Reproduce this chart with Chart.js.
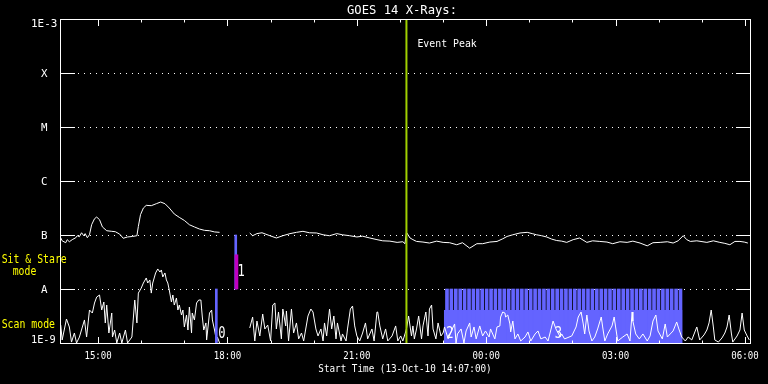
<!DOCTYPE html>
<html>
<head>
<meta charset="utf-8">
<script src="https://cdn.jsdelivr.net/npm/chart.js@4/dist/chart.umd.min.js"></script>
<style>
html,body{margin:0;padding:0;background:#000;}
#c{display:block;background:#000;}
</style>
</head>
<body>
<canvas id="c" width="768" height="384"></canvas>
<script>
// ---- data (time unit: minutes after start time 13-Oct-10 14:07:00) ----
const chartTitle = 'GOES 14 X-Rays:';
const xAxisTitle = 'Start Time (13-Oct-10 14:07:00)';
const timeMin = 0, timeMax = 960;
const hourTicks = [53,113,173,233,293,353,413,473,533,593,653,713,773,833,893,953];
const labelTicks = [53,233,413,593,773,953];
const labelTickText = ['15:00','18:00','21:00','00:00','03:00','06:00'];
const fluxTicks = [1e-3,1e-4,1e-5,1e-6,1e-7,1e-8,1e-9];
const fluxTickText = ['1E-3','X','M','C','B','A','1E-9'];

// GOES long channel (1-8 A), W/m^2
const longTimes = [1,3,8,10,13,17,22,24,27,30,33,35,38,41,44,48,51,55,59,65,72,77,83,88,94,101,107,109,112,116,120,127,134,140,146,152,159,166,173,180,187,194,201,208,215,222,240,264,268,274,281,292,301,310,320,329,338,347,357,366,375,385,393,403,413,421,431,441,449,459,469,477,480,482,487,491,496,505,514,524,533,542,552,560,570,580,588,598,608,616,622,630,640,650,657,663,670,677,684,691,698,705,714,723,733,741,751,761,769,779,789,797,807,817,825,835,845,853,860,867,872,877,886,900,909,918,925,932,939,946,952,957];
const longFlux = [8.9e-8,7.8e-8,7.2e-8,8.2e-8,7.5e-8,8.2e-8,8.9e-8,9.7e-8,9.3e-8,1.10e-7,9.7e-8,1.06e-7,8.9e-8,1.01e-7,1.55e-7,2.0e-7,2.15e-7,1.92e-7,1.41e-7,1.2e-7,1.17e-7,1.15e-7,1.04e-7,8.7e-8,9.2e-8,9.4e-8,9.7e-8,1.44e-7,2.38e-7,3.16e-7,3.54e-7,3.49e-7,3.8e-7,4.08e-7,3.8e-7,3.16e-7,2.45e-7,2.12e-7,1.86e-7,1.55e-7,1.41e-7,1.29e-7,1.22e-7,1.2e-7,1.14e-7,1.12e-7,null,1.09e-7,9.7e-8,1.06e-7,1.10e-7,9.7e-8,8.8e-8,9.7e-8,1.06e-7,1.12e-7,1.17e-7,1.1e-7,1.09e-7,1.01e-7,9.7e-8,1.06e-7,1.01e-7,9.7e-8,9.2e-8,9.5e-8,8.8e-8,8.2e-8,7.8e-8,7.7e-8,7.3e-8,7.5e-8,6.9e-8,1.12e-7,8.8e-8,8.2e-8,7.6e-8,7.4e-8,7.1e-8,7.7e-8,7.3e-8,7.2e-8,6.6e-8,7.2e-8,5.7e-8,6.9e-8,6.9e-8,7.4e-8,7.6e-8,8.5e-8,9.4e-8,1.01e-7,1.09e-7,1.12e-7,1.06e-7,1.01e-7,9.7e-8,9.2e-8,8.4e-8,7.9e-8,7.7e-8,7.3e-8,8.2e-8,8.8e-8,7.3e-8,7.8e-8,7.6e-8,7.4e-8,6.9e-8,7.5e-8,7.3e-8,7.7e-8,7.1e-8,6.3e-8,7.2e-8,7.3e-8,7.5e-8,7.1e-8,7.8e-8,9.7e-8,8.2e-8,7.6e-8,7.8e-8,7.3e-8,7.8e-8,7.3e-8,7.0e-8,6.6e-8,7.6e-8,7.6e-8,7.4e-8,7.1e-8];

// GOES short channel (0.5-4 A), in units of 1e-9 W/m^2
const shortTimes = [1,3,9,13,16,20,23,27,34,37,41,45,48,51,55,58,61,63,65,68,72,73,76,79,83,86,91,94,100,104,107,109,113,116,120,122,125,127,129,133,136,139,141,143,146,148,150,152,155,157,159,162,164,166,169,171,173,176,178,180,183,184,187,190,193,196,198,200,203,204,208,211,212,215,218,219,222,235,
264,268,271,274,278,282,285,289,293,296,299,301,304,308,310,314,315,318,322,325,329,332,336,339,345,349,352,356,359,363,366,368,371,375,378,381,384,386,391,393,398,400,404,407,410,413,417,421,425,428,434,437,441,442,445,449,453,456,462,467,470,474,477,480,482,485,489,491,493,496,499,503,505,509,512,514,517,519,523,526,530,533,
535,540,547,549,551,553,558,562,565,570,572,576,579,584,588,592,597,599,605,608,612,613,616,619,620,623,626,627,630,633,637,641,647,651,655,661,665,669,675,679,686,690,696,698,702,712,718,721,725,728,730,733,736,740,744,748,753,755,758,762,768,771,773,776,783,789,793,796,797,801,806,811,817,821,825,829,832,838,842,845,849,853,858,861,865,870,874,879,886,890,896,900,903,906,909,911,916,921,925,928,931,934,936,942,946,949,952,956,959];
const shortFluxNano = [2.15,1.14,2.78,1.98,1.04,1.53,1.0,1.29,2.67,1.29,4.08,3.59,5.5,7.1,7.74,4.08,5.74,2.35,5.05,1.53,3.59,1.29,1.74,1.0,1.53,1.0,1.74,1.0,1.29,6.25,2.35,8.4,10.4,12.9,16.0,12.9,14.7,8.4,12.9,19.8,23.5,20.6,22.5,16.7,19.8,14.7,12.9,9.6,5.74,7.74,5.05,6.81,4.08,5.05,3.3,4.08,1.98,3.3,1.74,4.64,1.53,3.59,2.67,5.5,6.25,6.25,3.03,1.74,2.35,1.14,3.59,4.08,2.67,1.74,1.04,1.29,1.0,null,
1.9,3.03,1.09,2.55,1.35,3.44,1.82,2.15,1.09,5.05,5.5,1.82,3.75,1.19,4.26,2.07,3.91,1.09,4.26,1.53,2.35,1.19,1.53,1.09,3.16,4.26,3.75,1.82,1.35,1.82,1.09,2.35,1.35,4.26,1.82,3.16,1.19,2.35,1.09,1.47,1.09,1.82,4.26,4.84,2.07,1.35,1.09,1.53,2.35,1.19,1.82,1.09,3.75,3.75,2.07,1.19,1.82,1.09,1.35,2.07,1.09,1.35,1.09,1.47,1.82,3.16,1.35,2.07,1.19,1.82,3.16,1.19,2.07,3.75,1.35,4.26,5.05,1.82,1.19,2.35,1.35,1.53,
1.98,1.19,1.98,2.25,1.0,1.47,1.82,1.0,1.67,2.35,1.29,1.98,1.19,2.07,1.35,1.67,1.29,1.82,1.19,1.98,2.07,3.03,3.75,3.59,3.03,3.3,2.25,1.6,2.55,1.19,1.47,1.09,1.29,1.6,1.09,1.47,1.67,1.19,1.29,1.09,2.55,1.82,1.29,1.47,1.19,1.35,1.98,3.03,3.75,2.25,1.47,3.3,1.67,1.09,1.29,1.82,3.03,1.98,1.09,1.47,2.07,3.03,1.98,1.09,1.29,1.47,1.09,3.75,2.55,1.47,1.19,1.47,1.09,1.35,2.55,3.3,1.67,1.19,2.25,1.29,1.47,1.67,2.45,1.82,1.29,1.09,1.29,1.14,1.98,1.14,1.41,1.74,2.35,4.08,1.98,1.14,1.04,1.24,1.53,1.98,3.3,1.53,1.04,1.35,1.74,3.59,1.74,1.35,1.14];

// event peak and EIS observation markers
const eventPeakTime = 482;
const scanBarTimes = [217.5];
const scanBarLow = [1e-9];
const scanBarHigh = [1e-8];
const stareBarTimes = [244.5];
const stareBarLow = [1e-8];
const stareBarHigh = [1e-7];
const stareMarkTimes = [245.5];
const stareMarkLow = [1e-8];
const stareMarkHigh = [4.3e-8];
const rasterTimes = [538.4,544.5,550.7,556.8,562.9,569.1,575.2,581.3,587.4,593.6,599.7,605.8,612.0,618.1,624.2,630.4,636.5,642.6,648.7,654.9,661.0,667.1,673.3,679.4,685.5,691.7,697.8,703.9,710.0,716.2,722.3,728.4,734.6,740.7,746.8,753.0,759.1,765.2,771.3,777.5,783.6,789.7,795.9,802.0,808.1,814.3,820.4,826.5,832.6,838.8,844.9,851.0,857.2,863.3];
const rasterLow = 1e-9, rasterHigh = 1e-8;
const rasterBlockStart = 534, rasterBlockEnd = 866, rasterBlockTop = 4.1e-9;
const obsNumbers = ['0','1','2','3'];
const obsNumberTimes = [217.5, 244.5, 535, 686];

// ---- drawing ----
const BLUE = '#6464ff';
const MONO = '"DejaVu Sans Mono","Liberation Mono",monospace';

function drawText(ctx, s, x, y, size, align, maxW, color) {
  ctx.font = size + 'px ' + MONO;
  ctx.textAlign = align;
  ctx.textBaseline = 'alphabetic';
  ctx.fillStyle = color || '#ffffff';
  const w = ctx.measureText(s).width;
  if (maxW && w > maxW) ctx.fillText(s, x, y, maxW); else ctx.fillText(s, x, y);
}

const goesPlugin = {
  id: 'goesFrame',
  beforeDraw(chart) {
    const ctx = chart.ctx;
    ctx.save();
    ctx.fillStyle = '#000';
    ctx.fillRect(0, 0, chart.width, chart.height);
    ctx.restore();
  },
  beforeDatasetsDraw(chart) {
    const {ctx, chartArea: a, scales: {y}} = chart;
    ctx.save();
    ctx.strokeStyle = '#fff';
    ctx.lineWidth = 1;
    ctx.setLineDash([1, 5]);
    fluxTicks.slice(1, -1).forEach(v => {
      const py = Math.round(y.getPixelForValue(v)) + 0.5;
      ctx.beginPath();
      ctx.moveTo(a.left + 18, py);
      ctx.lineTo(a.right - 14, py);
      ctx.stroke();
    });
    ctx.restore();
  },
  afterDatasetsDraw(chart) {
    const {ctx, chartArea: a, scales: {x, y}} = chart;
    ctx.save();
    ctx.strokeStyle = '#fff';
    ctx.lineWidth = 1;
    ctx.setLineDash([]);
    ctx.strokeRect(a.left + 0.5, a.top + 0.5, a.right - a.left, a.bottom - a.top);
    // y ticks
    fluxTicks.slice(1, -1).forEach(v => {
      const py = Math.round(y.getPixelForValue(v)) + 0.5;
      ctx.beginPath();
      ctx.moveTo(a.left, py); ctx.lineTo(a.left + 15, py);
      ctx.moveTo(a.right - 14, py); ctx.lineTo(a.right + 1, py);
      ctx.stroke();
    });
    // x ticks
    hourTicks.forEach(t => {
      const px = Math.round(x.getPixelForValue(t)) + 0.5;
      const len = labelTicks.includes(t) ? 7 : 3.5;
      ctx.beginPath();
      ctx.moveTo(px, a.top); ctx.lineTo(px, a.top + len);
      ctx.moveTo(px, a.bottom + 1); ctx.lineTo(px, a.bottom + 1 - len);
      ctx.stroke();
    });
    // y labels
    fluxTicks.forEach((v, i) => {
      const py = y.getPixelForValue(v);
      if (i === 0) drawText(ctx, fluxTickText[i], 31, py + 8.3, 11, 'left', 26.3);
      else if (i === fluxTicks.length - 1) drawText(ctx, fluxTickText[i], 31, py + 0.3, 11, 'left', 24.7);
      else drawText(ctx, fluxTickText[i], 44.2, py + 4.4, 11, 'center', 6.5);
    });
    // x labels
    labelTicks.forEach((t, i) => {
      drawText(ctx, labelTickText[i], x.getPixelForValue(t), a.bottom + 16.3, 10.5, 'center', 27.3);
    });
    drawText(ctx, xAxisTitle, 405, a.bottom + 28.7, 10, 'center', 173.4);
    drawText(ctx, chartTitle, 402, 14, 12.5, 'center', 110);
    // event peak label
    drawText(ctx, 'Event Peak', x.getPixelForValue(eventPeakTime) + 11, a.top + 27.7, 10.5, 'left', 59.3);
    // side labels
    drawText(ctx, 'Sit & Stare', 1.7, 262.7, 12, 'left', 65, '#ffff00');
    drawText(ctx, 'mode', 12.7, 275, 12, 'left', 23.6, '#ffff00');
    drawText(ctx, 'Scan mode', 1.7, 327.7, 12, 'left', 53.3, '#ffff00');
    // observation numbers
    obsNumbers.forEach((s, i) => {
      const px = x.getPixelForValue(obsNumberTimes[i]) + 1.8;
      const py = (i === 1) ? y.getPixelForValue(stareMarkLow[0]) - 12.8 : y.getPixelForValue(1e-9) - 5.3;
      drawText(ctx, s, px, py, 16, 'left', 7.3);
    });
    ctx.restore();
  }
};

const longData = longTimes.map((t, i) => ({x: t, y: longFlux[i]}));
const shortData = shortTimes.map((t, i) => ({x: t, y: shortFluxNano[i] === null ? null : shortFluxNano[i] * 1e-9}));

new Chart(document.getElementById('c'), {
  type: 'line',
  data: {
    datasets: [
      {type: 'line', label: 'Event Peak', order: 0,
       data: [{x: eventPeakTime, y: fluxTicks[fluxTicks.length - 1]}, {x: eventPeakTime, y: fluxTicks[0]}],
       borderColor: '#a0d000', borderWidth: 2, pointRadius: 0, fill: false},
      {type: 'bar', label: 'Sit & Stare mark', order: 1, grouped: false, barThickness: 3,
       data: stareMarkTimes.map((t, i) => ({x: t, y: [stareMarkLow[i], stareMarkHigh[i]]})),
       backgroundColor: '#c000c0', borderWidth: 0},
      {type: 'bar', label: 'Sit & Stare', order: 2, grouped: false, barThickness: 2,
       data: stareBarTimes.map((t, i) => ({x: t, y: [stareBarLow[i], stareBarHigh[i]]})),
       backgroundColor: BLUE, borderWidth: 0},
      {type: 'bar', label: 'Scan', order: 2, grouped: false, barThickness: 2,
       data: scanBarTimes.map((t, i) => ({x: t, y: [scanBarLow[i], scanBarHigh[i]]})),
       backgroundColor: BLUE, borderWidth: 0},
      {type: 'line', label: '1-8 A', order: 3, data: longData,
       borderColor: '#ffffff', borderWidth: 1, pointRadius: 0, tension: 0, fill: false, spanGaps: false},
      {type: 'line', label: '0.5-4 A', order: 4, data: shortData,
       borderColor: '#ffffff', borderWidth: 1, pointRadius: 0, tension: 0, fill: false, spanGaps: false},
      {type: 'bar', label: 'Raster', order: 5, grouped: false, barThickness: 3,
       data: rasterTimes.map(t => ({x: t, y: [rasterLow, rasterHigh]})),
       backgroundColor: BLUE, borderWidth: 0},
      {type: 'line', label: 'Raster block', order: 6,
       data: [{x: rasterBlockStart, y: rasterBlockTop}, {x: rasterBlockEnd, y: rasterBlockTop}],
       borderColor: BLUE, borderWidth: 0, pointRadius: 0, backgroundColor: BLUE, fill: {value: rasterLow}}
    ]
  },
  options: {
    responsive: false,
    animation: false,
    devicePixelRatio: 1,
    layout: {padding: {left: 60, right: 18, top: 19, bottom: 41}},
    plugins: {legend: {display: false}, tooltip: {enabled: false}, title: {display: false}},
    scales: {
      x: {type: 'linear', display: false, min: timeMin, max: timeMax, offset: false},
      y: {type: 'logarithmic', display: false, min: fluxTicks[fluxTicks.length - 1], max: fluxTicks[0]}
    }
  },
  plugins: [goesPlugin]
});
</script>
</body>
</html>
